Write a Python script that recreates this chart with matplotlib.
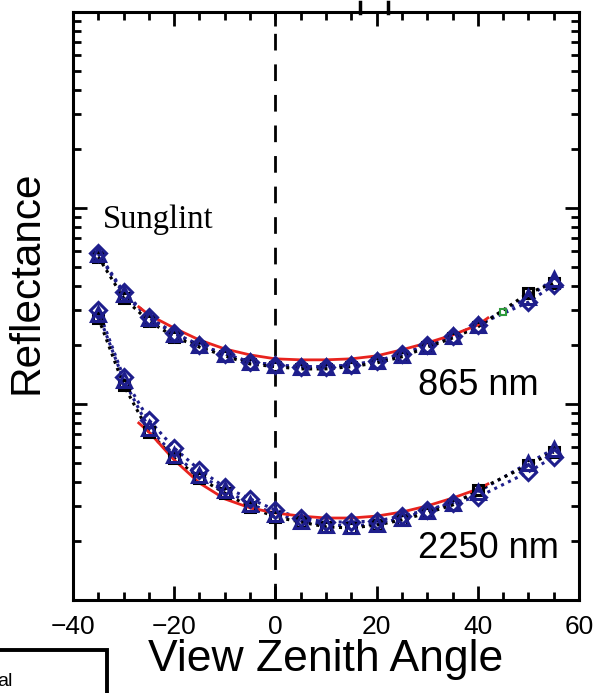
import numpy as np
import matplotlib
matplotlib.use('Agg')
import matplotlib.pyplot as plt
from matplotlib.lines import Line2D
from matplotlib.patches import Rectangle
from matplotlib.ticker import MultipleLocator, LogLocator, NullFormatter

plt.rcParams['font.family'] = ['Liberation Sans', 'DejaVu Sans']

# View zenith angles of the measurements (45 deg only in the green set)
vza = [-35, -30, -25, -20, -15, -10, -5, 0, 5, 10, 15, 20, 25, 30, 35, 40, 50, 55]

# 865 nm reflectance
r865_diamond  = [0.0589, 0.0373, 0.0278, 0.0230, 0.0200, 0.0180, 0.0164, 0.0158, 0.0155,
                 0.0155, 0.0158, 0.0166, 0.0180, 0.0200, 0.0222, 0.0253, 0.0331, 0.0405]
r865_triangle = [0.0583, 0.0364, 0.0275, 0.0228, 0.0200, 0.0180, 0.0164, 0.0158, 0.0155,
                 0.0155, 0.0158, 0.0166, 0.0178, 0.0198, 0.0222, 0.0253, 0.0351, 0.0434]
r865_square   = [0.0562, 0.0347, 0.0265, 0.0220, 0.0195, 0.0176, 0.0160, 0.0155, 0.0151,
                 0.0151, 0.0155, 0.0162, 0.0174, 0.0195, 0.0217, 0.0247, 0.0368, 0.0414]

# 2250 nm reflectance
r2250_diamond  = [0.0302, 0.0137, 0.00829, 0.00596, 0.00461, 0.00377, 0.00328, 0.00288, 0.00262,
                  0.00250, 0.00250, 0.00253, 0.00268, 0.00288, 0.00313, 0.00335, 0.00450, 0.00537]
r2250_triangle = [0.0288, 0.0133, 0.00754, 0.00549, 0.00434, 0.00364, 0.00309, 0.00275, 0.00253,
                  0.00241, 0.00239, 0.00244, 0.00262, 0.00285, 0.00313, 0.00356, 0.00500, 0.00589]
r2250_square   = [0.0275, 0.0125, 0.00720, 0.00530, 0.00419, 0.00351, 0.00298, 0.00265, 0.00250,
                  0.00236, 0.00233, 0.00241, 0.00256, 0.00278, 0.00305, 0.00364, 0.00488, 0.00569]

# single green point at 45 deg (865 nm)
green_vza = [45]
green_r865 = [0.0295]

# model curves (red)
model_vza_865 = [-27, -25, -20, -15, -10, -5, 0, 5, 10, 15, 20, 25, 30, 35, 40, 42]
model_865 = [0.0313, 0.0285, 0.0244, 0.0212, 0.0191, 0.0178, 0.0170, 0.0168, 0.0168,
             0.0170, 0.0176, 0.0189, 0.0205, 0.0225, 0.0253, 0.0275]
model_vza_2250 = [-27, -25, -20, -15, -10, -5, 0, 5, 10, 15, 20, 25, 30, 35, 40, 42]
model_2250 = [0.00800, 0.00720, 0.00518, 0.00395, 0.00328, 0.00295, 0.00278, 0.00268, 0.00262,
              0.00262, 0.00268, 0.00281, 0.00302, 0.00331, 0.00368, 0.00391]

navy = '#1e1e8c'
red = '#e8231e'
dots = (0, (1, 1.5))

fig = plt.figure(figsize=(5.96, 6.93), dpi=100)
ax = fig.add_axes([73/596, 1-600/693, 506/596, 588/693])

# dotted connecting lines
for r in (r865_diamond, r865_triangle, r2250_diamond, r2250_triangle):
    ax.plot(vza, r, color=navy, lw=2.2, ls=dots, zorder=2)
for r in (r865_square, r2250_square):
    ax.plot(vza, r, color='black', lw=2.2, ls=dots, zorder=2)

# model
ax.plot(model_vza_865, model_865, color=red, lw=2, zorder=2.5)
ax.plot(model_vza_2250, model_2250, color=red, lw=2, zorder=2.5)

# markers
for r in (r865_square, r2250_square):
    ax.plot(vza, r, ls='none', marker='s', ms=7.5, mfc='none', mec='black', mew=2.2, zorder=3)
for r in (r865_triangle, r2250_triangle):
    ax.plot(vza, r, ls='none', marker='^', ms=9.5, mfc='none', mec=navy, mew=2.2, zorder=3)
for r in (r865_diamond, r2250_diamond):
    ax.plot(vza, r, ls='none', marker='D', ms=8.5, mfc='none', mec=navy, mew=2.2, zorder=3)
ax.plot(green_vza, green_r865, ls='none', marker='s', ms=4, mfc='none', mec='#2e9a3c', mew=1.5, zorder=3)

ax.axvline(0, color='black', lw=2, ls=(0, (6, 5)), zorder=1)

ax.set_yscale('log')
ax.set_xlim(-40, 60)
ax.set_ylim(0.001, 1)
ax.xaxis.set_major_locator(MultipleLocator(20))
ax.xaxis.set_minor_locator(MultipleLocator(5))
ax.yaxis.set_major_locator(LogLocator(base=10))
ax.yaxis.set_minor_locator(LogLocator(base=10, subs=np.arange(2, 10)))
ax.yaxis.set_major_formatter(NullFormatter())
ax.yaxis.set_minor_formatter(NullFormatter())

ax.tick_params(which='both', direction='in', top=True, right=True, width=2, color='black')
ax.tick_params(which='major', length=10)
ax.tick_params(which='minor', length=6)
ax.tick_params(axis='x', which='major', labelsize=19, pad=11)
for s in ax.spines.values():
    s.set_linewidth(2.2)

ax.set_xlabel('View Zenith Angle', fontsize=32)
ax.xaxis.set_label_coords(0.5, -0.066)
ax.set_ylabel('Reflectance', fontsize=30.5)
ax.yaxis.set_label_coords(-0.052, 0.54)

ax.text(-34, 0.087, 'Sunglint', family=['Liberation Serif', 'DejaVu Serif'], fontsize=23.5, va='center', ha='left')
ax.text(28.2, 0.0125, '865 nm', fontsize=26, va='center', ha='left')
ax.text(28.2, 0.00184, '2250 nm', fontsize=26, va='center', ha='left')

# bits of the neighbouring panels cut by the crop
for xp in (360, 388):
    fig.add_artist(Line2D([xp/596, xp/596], [1-2/693, 1-13/693], transform=fig.transFigure,
                          color='black', lw=2.5))
fig.add_artist(Rectangle((-10/596, -10/693), 117/596, 53/693,
                         transform=fig.transFigure, fill=False, lw=2.8, ec='black', clip_on=False))
fig.text(-3/596, 1-681/693, 'al', fontsize=14, va='center', ha='left')

fig.savefig('out.png', dpi=100)
